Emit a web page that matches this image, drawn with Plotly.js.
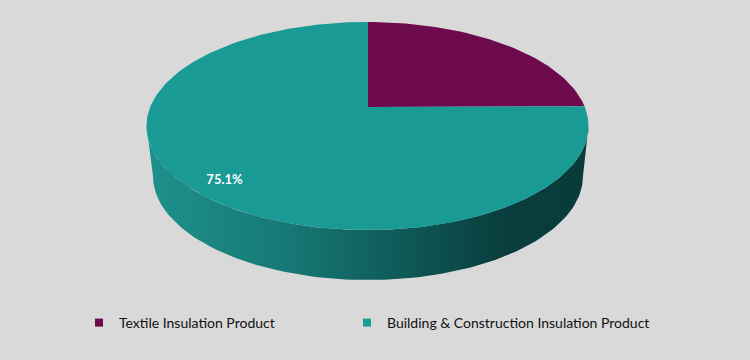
<!DOCTYPE html>
<html>
<head>
<meta charset="utf-8">
<script src="https://cdn.plot.ly/plotly-3.0.1.min.js"></script>
<style>html,body{margin:0;padding:0;background:#d9d9d9;}#chart{width:750px;height:360px;}</style>
</head>
<body>
<div id="chart"></div>
<script>
// ---- data ----
const labels = ["Textile Insulation Product", "Building & Construction Insulation Product"];
const values = [24.9, 75.1];
const colors = ["#6d0a4d", "#199a95"];
const showPct = [false, true];

// ---- geometry (pixel space of the chart canvas) ----
const topE = {cx: 367.5, cy: 126, a: 221, b: 104};
const botE = {cx: 368, cy: 176, a: 215, b: 104};
const vtx = {x: 368, y: 107};

function rayHit(phi) {
  const s = Math.sin(phi), c = Math.cos(phi);
  const u0 = (vtx.x - topE.cx) / topE.a, v0 = (vtx.y - topE.cy) / topE.b;
  const B = u0 * s - v0 * c;
  const C = u0 * u0 + v0 * v0 - 1;
  const t = -B + Math.sqrt(B * B - C);
  return [vtx.x + t * topE.a * s, vtx.y - t * topE.b * c];
}

const total = values.reduce((p, q) => p + q, 0);
const traces = [];

// side (front wall)
const sx = [], sy = [];
for (let i = 0; i <= 120; i++) {
  const t = Math.PI - Math.PI * i / 120;
  sx.push(topE.cx + topE.a * Math.cos(t)); sy.push(topE.cy + topE.b * Math.sin(t));
}
for (let i = 0; i <= 120; i++) {
  const t = Math.PI * i / 120;
  sx.push(botE.cx + botE.a * Math.cos(t)); sy.push(botE.cy + botE.b * Math.sin(t));
}
traces.push({
  x: sx, y: sy, type: 'scatter', mode: 'lines', fill: 'toself',
  line: {width: 0, color: 'rgba(0,0,0,0)'},
  fillgradient: {type: 'horizontal', start: 150, stop: 585,
    colorscale: [[0, '#1e908b'], [0.3, '#167a76'], [0.55, '#0f5d5b'], [0.8, '#093f3e'], [1, '#083b3a']]},
  hoverinfo: 'skip', showlegend: false
});

// top slices
let cum = 0;
values.forEach((v, i) => {
  const a0 = cum / total * 2 * Math.PI;
  cum += v;
  const a1 = cum / total * 2 * Math.PI;
  const xs = [vtx.x], ys = [vtx.y];
  const n = Math.max(8, Math.round((a1 - a0) / (2 * Math.PI) * 240));
  for (let k = 0; k <= n; k++) {
    const p = rayHit(a0 + (a1 - a0) * k / n);
    xs.push(p[0]); ys.push(p[1]);
  }
  xs.push(vtx.x); ys.push(vtx.y);
  traces.push({
    x: xs, y: ys, type: 'scatter', mode: 'lines', fill: 'toself',
    fillcolor: colors[i], line: {width: 0, color: colors[i]},
    name: labels[i], hoverinfo: 'name', showlegend: false
  });
  if (showPct[i]) {
    const mid = (a0 + a1) / 2;
    const p = rayHit(mid);
    const r = 0.82;
    traces.push({
      x: [vtx.x + (p[0] - vtx.x) * r], y: [vtx.y + (p[1] - vtx.y) * r + 6],
      type: 'scatter', mode: 'text', text: [(v / total * 100).toFixed(1) + '%'],
      textfont: {family: 'Lato, "Open Sans", sans-serif', size: 13, color: '#ffffff', weight: 'bold'},
      hoverinfo: 'skip', showlegend: false
    });
  }
});

// legend entries (one legend box per entry)
const legendIds = ['legend', 'legend2'];
labels.forEach((l, i) => {
  traces.push({
    x: [null], y: [null], type: 'scatter', mode: 'markers', name: l,
    marker: {symbol: 'square', size: 8, color: colors[i]}, showlegend: true,
    legend: legendIds[i]
  });
});

const legFont = {family: 'Lato, "Open Sans", sans-serif', size: 14, color: '#111111'};
const legX0 = 0.112 - 5 / 750;
const layout = {
  width: 750, height: 360,
  margin: {l: 0, r: 0, t: 0, b: 0},
  paper_bgcolor: '#d9d9d9', plot_bgcolor: '#d9d9d9',
  xaxis: {range: [0, 750], visible: false, fixedrange: true},
  yaxis: {range: [360, 0], visible: false, fixedrange: true},
  showlegend: true,
  legend: {
    orientation: 'h', x: legX0, xanchor: 'left', y: 1 - 323 / 360, yanchor: 'middle',
    bgcolor: 'rgba(0,0,0,0)', font: legFont, itemwidth: 30
  },
  legend2: {
    orientation: 'h', x: legX0 + 268 / 750, xanchor: 'left', y: 1 - 323 / 360, yanchor: 'middle',
    bgcolor: 'rgba(0,0,0,0)', font: legFont, itemwidth: 30
  },
  hovermode: false
};

Plotly.newPlot('chart', traces, layout, {displayModeBar: false, staticPlot: true});
</script>
</body>
</html>
